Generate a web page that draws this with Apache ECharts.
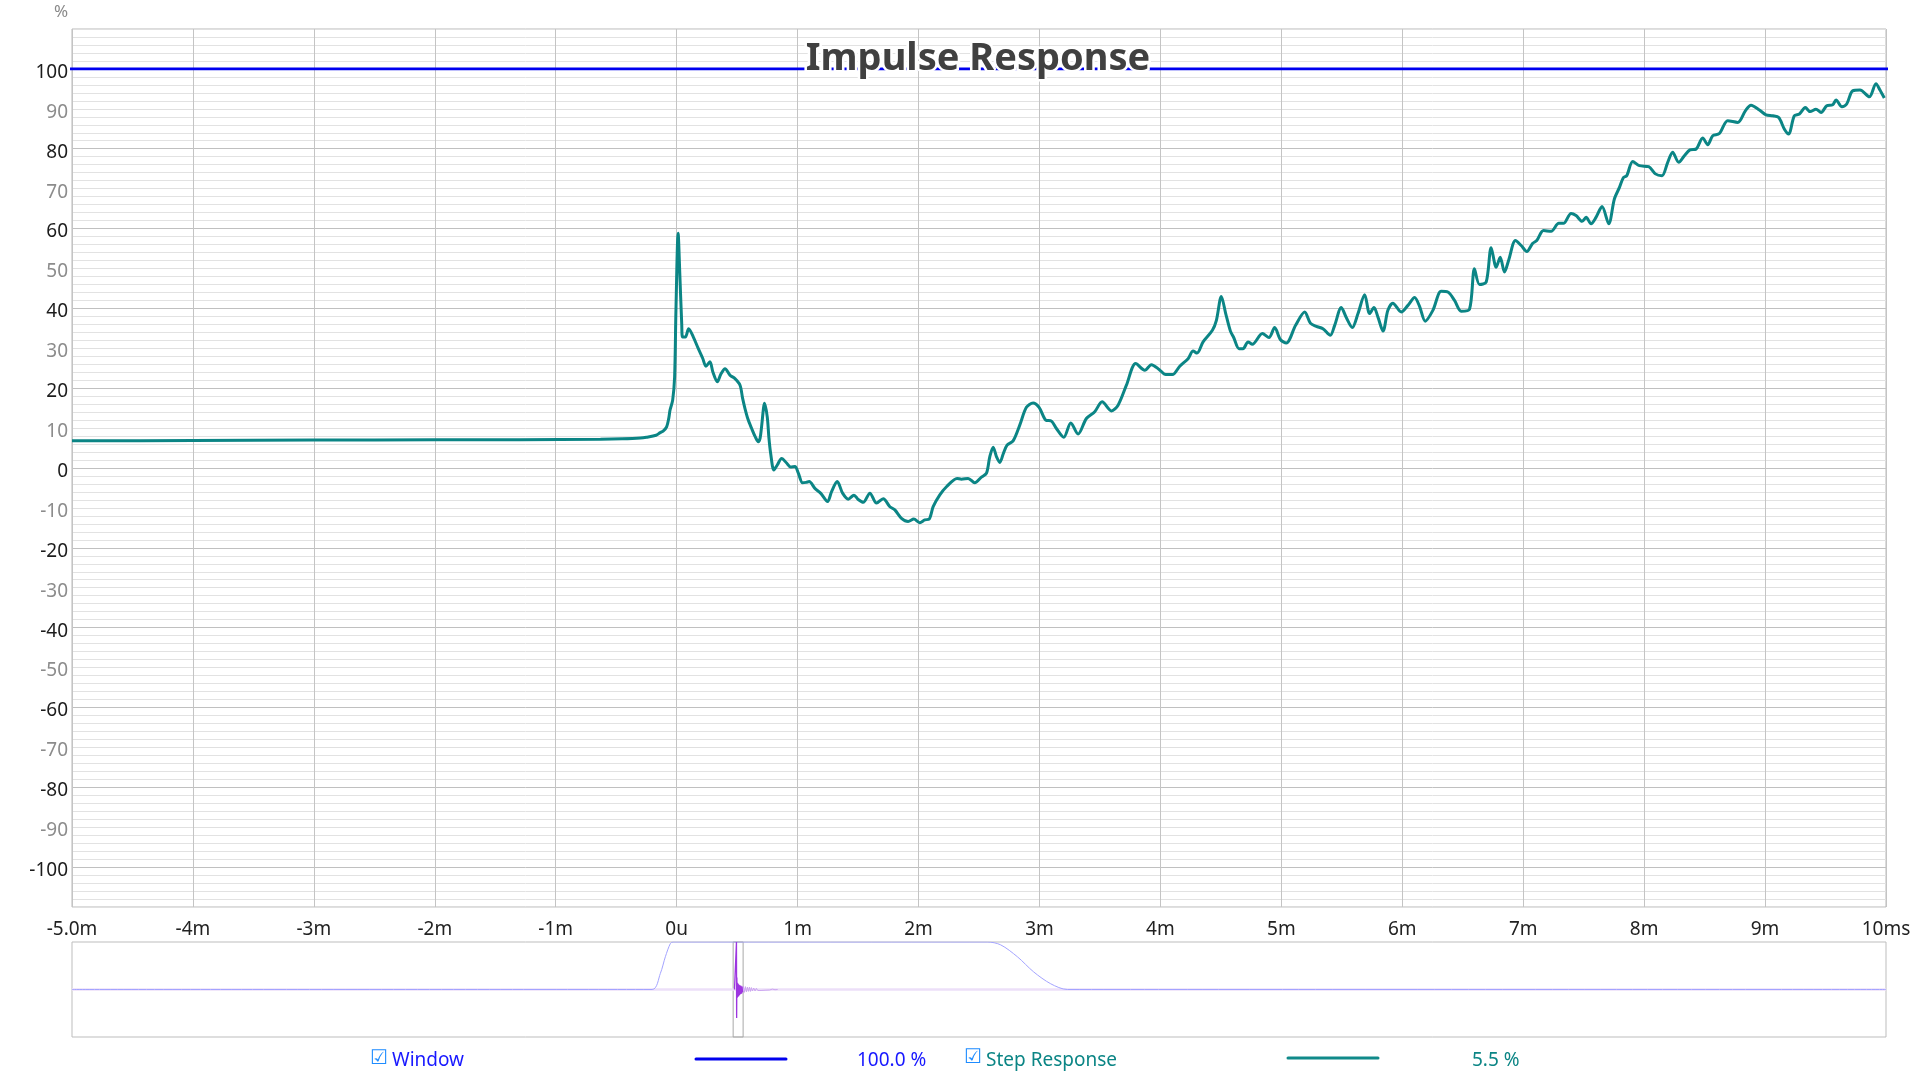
<!DOCTYPE html>
<html><head><meta charset="utf-8">
<script src="https://cdn.jsdelivr.net/npm/echarts@6/dist/echarts.min.js"></script>
<style>html,body{margin:0;padding:0;background:#fff}#c{width:1920px;height:1075px}</style>
</head><body><div id="c"></div>
<script>
// ---- tick labels ----
const xTickLabels = ['-5.0m','-4m','-3m','-2m','-1m','0u','1m','2m','3m','4m','5m','6m','7m','8m','9m','10ms'];

// ---- step response (time in ms, value in %) ----
const stepT = [-5.0,-4.0,-3.0,-2.0,-1.3,-0.63,-0.45,-0.30,-0.25,-0.17,-0.14,-0.11,-0.083,-0.065,-0.055,-0.033,-0.017,-0.006,0.012,0.027,0.042,0.049,0.072,0.099,0.138,0.179,0.215,0.242,0.275,0.300,0.336,0.365,0.400,0.441,0.482,0.524,0.545,0.565,0.59,0.62,0.65,0.675,0.690,0.702,0.727,0.749,0.763,0.777,0.804,0.832,0.868,0.909,0.942,0.978,1.006,1.041,1.070,1.096,1.143,1.190,1.248,1.281,1.328,1.372,1.419,1.466,1.501,1.543,1.598,1.653,1.708,1.763,1.804,1.859,1.914,1.961,2.01,2.052,2.088,2.121,2.176,2.231,2.319,2.355,2.41,2.465,2.52,2.562,2.589,2.617,2.645,2.672,2.700,2.732,2.782,2.837,2.892,2.947,2.997,3.052,3.099,3.14,3.201,3.259,3.319,3.388,3.457,3.518,3.595,3.650,3.719,3.796,3.871,3.926,3.989,4.044,4.099,4.16,4.229,4.27,4.303,4.353,4.43,4.463,4.504,4.54,4.579,4.606,4.65,4.683,4.725,4.760,4.843,4.898,4.945,4.992,5.041,5.118,5.193,5.240,5.289,5.344,5.405,5.441,5.496,5.537,5.587,5.634,5.689,5.73,5.766,5.799,5.841,5.881,5.922,5.992,6.047,6.102,6.143,6.19,6.253,6.322,6.377,6.432,6.487,6.556,6.597,6.639,6.694,6.735,6.777,6.81,6.845,6.881,6.936,6.983,7.03,7.079,7.112,7.168,7.231,7.294,7.333,7.396,7.437,7.487,7.520,7.561,7.602,7.652,7.707,7.754,7.796,7.829,7.856,7.906,7.961,8.038,8.093,8.148,8.195,8.236,8.286,8.333,8.379,8.429,8.484,8.526,8.567,8.622,8.691,8.774,8.837,8.884,8.953,9.008,9.063,9.113,9.160,9.195,9.242,9.284,9.333,9.372,9.421,9.463,9.51,9.559,9.587,9.636,9.675,9.724,9.785,9.862,9.917,9.95,9.986];
const stepV = [6.8,6.9,7.0,7.05,7.1,7.2,7.3,7.5,7.7,8.2,8.8,9.3,10.3,12.5,14.5,17,22.8,39.5,58.8,47.8,36,32.8,32.8,34.9,32.8,29.9,27.5,25.5,26.6,24,21.6,23.5,24.9,23.25,22.4,20.75,17.5,14.9,12.2,9.9,7.8,6.6,7.5,10.3,16.2,12.8,7.5,3.7,-0.5,0.75,2.4,1.25,0.25,0.4,-1.3,-3.7,-3.6,-3.4,-5.1,-6.3,-8.4,-5.9,-3.4,-6.3,-7.8,-6.8,-7.9,-8.6,-6.3,-8.8,-7.7,-9.7,-10.5,-12.6,-13.4,-12.8,-13.7,-13.0,-12.8,-9.7,-6.75,-4.7,-2.6,-2.8,-2.6,-3.7,-2.3,-1.3,2.8,5.2,2.8,1.4,3.5,5.75,6.8,10.75,15.2,16.3,15.2,12,11.75,9.9,7.7,11.3,8.5,12.4,14.1,16.6,14.3,15.75,20.75,26.2,24.5,25.9,24.7,23.4,23.4,25.5,27.4,29.3,28.8,31.6,34.5,37,43,38.7,34.3,32.7,29.9,29.9,31.6,31,33.7,32.7,35.2,32.2,31.3,35.75,39.1,36.3,35.5,34.9,33.25,35.75,40.2,37.7,35.2,38.7,43.4,38.7,40.2,37.8,34.3,39.5,41.3,39.1,40.75,42.7,40.5,36.8,39.5,44.3,44.1,42,39.3,39.8,49.9,46,46.6,55.2,50.3,52.8,49.1,52.2,57,55.75,54.25,56.3,57,59.5,59.3,61.3,61.3,63.8,63.25,61.8,62.8,61.2,62.8,65.5,61.2,67.4,70.3,72.8,73.25,76.8,75.75,75.5,73.7,73.25,76.6,79.1,76.6,78.25,79.7,79.9,82.7,81,83.25,83.8,87,86.6,89.5,90.9,89.7,88.5,88.25,87.8,84.9,83.7,88.25,88.7,90.3,89.3,89.9,89.1,90.75,91,92.2,90.5,91.2,94.5,94.7,93,96.3,94.7,92.7];

// ---- window (time in ms, value in %) ----
const windowT = [-1000,-127,-114.5,-107,-99.4,-95.3,377.6,397.6,422.7,447.3,473,498,1730];
const windowV = [0,0,34,69,97,100,100,94,69,37,12,0,0];

// ---- impulse for overview (time in ms, value in %) ----
const baselineT = [-1000, 1730];
const baselineV = [0, 0];
const spikeT = [-3,-0.5,-0.2,0,0.25,0.6,1.0,1.5,2.0,2.6,3.2,3.8,4.5,5.2,6.0,6.8,7.6,8.4,9.2];
const spikeV = [0,0,4,100,-60,25,-18,14,-16,12,-14,10,-12,9,-10,8,-9,6,-6];
const tailT = [9.2,10.5,12,13.5,15,16.5,18,19.5,21,22.5,24,26,28,30,32,34,37,40,43,46,50,54,58,62];
const tailV = [-6,7,-6,6,-5,5,-4,5,-4,4,-3,3,-3,2.5,-2,2,-2,1.5,-1.5,1,-1,0.8,-0.5,0];

// ---- view range shown in the main plot ----
const viewRange = [-5, 10];

// ---- legend ----
const legendNames = ['Window', 'Step Response'];
const legendValues = ['100.0 %', '5.5 %'];
const chartTitle = 'Impulse Response';
const yUnit = '%';

const zip = (a, b) => a.map((t, i) => [t, b[i]]);
const FONT = '"Noto Sans", "Open Sans", sans-serif';

const chart = echarts.init(document.getElementById('c'), null, {renderer: 'canvas'});

const option = {
  animation: false,
  backgroundColor: '#fff',
  grid: [
    {left: 72, right: 34, top: 29, height: 878, show: true, borderColor: '#b8b8b8', borderWidth: 1, backgroundColor: '#fff'},
    {left: 72, right: 34, top: 942, height: 95, show: true, borderColor: '#bdbdbd', borderWidth: 1, backgroundColor: '#fff'}
  ],
  xAxis: [
    {type: 'value', gridIndex: 0, min: viewRange[0], max: viewRange[1], interval: 1,
     axisLine: {show: false}, axisTick: {show: false},
     splitLine: {show: true, lineStyle: {color: '#c4c4c4', width: 1}},
     axisLabel: {formatter: v => xTickLabels[Math.round(v - viewRange[0])], color: '#222', fontSize: 19, fontFamily: FONT, margin: 13}},
    {type: 'value', gridIndex: 1, min: -1000, max: 1730, show: false, splitLine: {show: false}}
  ],
  yAxis: [
    {type: 'value', gridIndex: 0, min: -110, max: 110, interval: 10,
     axisLine: {show: false}, axisTick: {show: false},
     axisLabel: {formatter: v => (Math.abs(v) >= 110 ? '' : (Math.abs(v) % 20 === 0 ? '{d|' + v + '}' : '{g|' + v + '}')),
                 margin: 4,
                 rich: {
                   d: {color: '#1c1c1c', fontSize: 19, fontFamily: FONT, padding: [7, 0, 0, 0]},
                   g: {color: '#8c8c8c', fontSize: 19, fontFamily: FONT, padding: [7, 0, 0, 0]}
                 }},
     splitLine: {show: true, lineStyle: {color: ['#e0e0e0', '#c0c0c0'], width: 1}},
     minorTick: {show: false, splitNumber: 5},
     minorSplitLine: {show: true, lineStyle: {color: '#e2e2e2', width: 1}}},
    {type: 'value', gridIndex: 1, min: -100, max: 100, show: false, splitLine: {show: false}}
  ],
  series: [
    {name: 'Window', type: 'line', xAxisIndex: 0, yAxisIndex: 0, data: zip(windowT, windowV),
     showSymbol: false, lineStyle: {color: '#0000f0', width: 2.8}, z: 3, silent: true},
    {name: 'Step Response', type: 'line', xAxisIndex: 0, yAxisIndex: 0, data: zip(stepT, stepV),
     showSymbol: false, smooth: 0.3, lineStyle: {color: '#0b8585', width: 3}, z: 4, silent: true},
    {type: 'line', xAxisIndex: 1, yAxisIndex: 1, data: zip(baselineT, baselineV),
     showSymbol: false, lineStyle: {color: '#ecdff8', width: 2.5}, silent: true, z: 2},
    {type: 'line', xAxisIndex: 1, yAxisIndex: 1, data: zip(windowT, windowV),
     showSymbol: false, smooth: 0.3, lineStyle: {color: '#a3a3ff', width: 1}, silent: true, z: 3},
    {type: 'line', xAxisIndex: 1, yAxisIndex: 1, data: zip(tailT, tailV),
     showSymbol: false, lineStyle: {color: '#cba4f0', width: 1}, silent: true, z: 4},
    {type: 'line', xAxisIndex: 1, yAxisIndex: 1, data: zip(spikeT, spikeV),
     showSymbol: false, lineStyle: {color: '#9d35e0', width: 1.3}, silent: true, z: 5,
     markArea: {silent: true, itemStyle: {color: 'rgba(0,0,0,0)', borderColor: '#a8a8a8', borderWidth: 1},
                data: [[{xAxis: viewRange[0]}, {xAxis: viewRange[1]}]]}}
  ],
  graphic: [
    {type: 'text', z: 100, x: 978, y: 59,
     style: {text: chartTitle, font: 'bold 38px ' + FONT, fill: '#404040', stroke: '#fff', lineWidth: 5,
             align: 'center', verticalAlign: 'middle'}},
    {type: 'text', z: 100, x: 61, y: 12,
     style: {text: yUnit, font: '17px ' + FONT, fill: '#8a8a8a', align: 'center', verticalAlign: 'middle'}},
    // legend: Window
    {type: 'text', z: 100, x: 370, y: 1059,
     style: {text: '\u2611', font: '20px "DejaVu Sans"', fill: '#1e8cff', align: 'left', verticalAlign: 'middle'}},
    {type: 'text', z: 100, x: 392, y: 1061,
     style: {text: legendNames[0], font: '19px ' + FONT, fill: '#1818ff', align: 'left', verticalAlign: 'middle'}},
    {type: 'line', z: 100, shape: {x1: 696, y1: 1059, x2: 786, y2: 1059},
     style: {stroke: '#0000ee', lineWidth: 3, lineCap: 'round'}},
    {type: 'text', z: 100, x: 857, y: 1061,
     style: {text: legendValues[0], font: '19px ' + FONT, fill: '#1818ff', align: 'left', verticalAlign: 'middle'}},
    // legend: Step Response
    {type: 'text', z: 100, x: 964, y: 1058,
     style: {text: '\u2611', font: '20px "DejaVu Sans"', fill: '#1e8cff', align: 'left', verticalAlign: 'middle'}},
    {type: 'text', z: 100, x: 986, y: 1061,
     style: {text: legendNames[1], font: '19px ' + FONT, fill: '#0b8585', align: 'left', verticalAlign: 'middle'}},
    {type: 'line', z: 100, shape: {x1: 1288, y1: 1058, x2: 1378, y2: 1058},
     style: {stroke: '#108a8a', lineWidth: 3, lineCap: 'round'}},
    {type: 'text', z: 100, x: 1472, y: 1061,
     style: {text: legendValues[1], font: '19px ' + FONT, fill: '#0b8585', align: 'left', verticalAlign: 'middle'}}
  ]
};
chart.setOption(option);
</script>
</body></html>
